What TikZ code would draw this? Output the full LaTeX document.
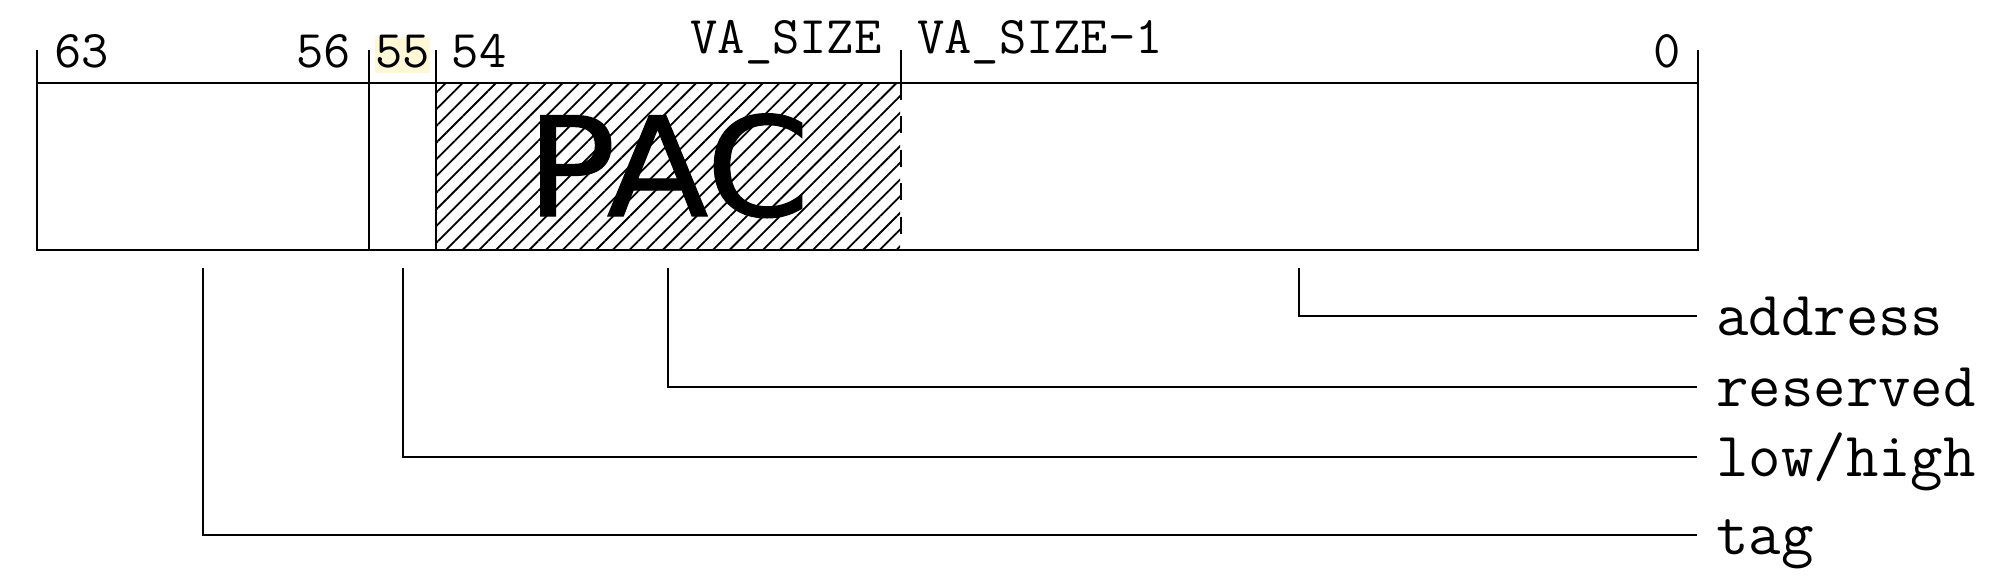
\documentclass[tikz,border=0pt]{standalone}
\usepackage{fontspec}
\usetikzlibrary{patterns.meta}
\newfontfamily\pacf[FakeStretch=1.08,FakeBold=0.8]{DejaVu Sans}
\definecolor{hilite}{HTML}{FFF8D6}
\tikzset{
  frame/.style={line width=2pt, black},
  hatchfill/.style={pattern={Lines[angle=45,distance=11.8pt,line width=1.8pt]}},
  bitlbl/.style={font=\ttfamily\fontsize{53}{56}\selectfont, inner sep=0pt, anchor=base},
  fieldlbl/.style={font=\ttfamily\fontsize{63}{66}\selectfont, inner sep=0pt, anchor=base west},
  leader/.style={line width=2pt, black},
}
\begin{document}
\begin{tikzpicture}[x=1pt,y=-1pt]
\useasboundingbox (0,0) rectangle (1991,579);
% hatched PAC area
\fill[hatchfill] (436,83) rectangle (900,250);
% highlight behind 55
\fill[hilite] (375,37) rectangle (430,73);
% frame
\draw[frame] (37,50) -- (37,250) -- (1698,250) -- (1698,50);
\draw[frame] (37,82.5) -- (1698,82.5);
\draw[frame] (369,50) -- (369,250);
\draw[frame] (436,50) -- (436,250);
\draw[frame] (900.5,50) -- (900.5,82.5);
\draw[frame, dash pattern=on 17pt off 16.5pt] (900.5,82.5) -- (900.5,240);
% bit labels
\node[bitlbl] (b63) at (81.5,67) {63};
\node[bitlbl] (b56) at (323.5,67) {56};
\node[bitlbl] (b55) at (402.5,67) {55};
\node[bitlbl] (b54) at (479,67) {54};
\node[bitlbl] (bva) at (786,53) {VA\_SIZE};
\node[bitlbl] (bva1) at (1040,53) {VA\_SIZE-1};
\node[bitlbl] (b0) at (1667.5,67) {0};
% PAC
\node[font=\pacf\fontsize{138}{142}\selectfont, inner sep=0pt, anchor=base] (pac) at (668,216) {PAC};
% field labels
\node[fieldlbl] (laddr) at (1716,335) {address};
\node[fieldlbl] (lres) at (1716,406) {reserved};
\node[fieldlbl] (llh) at (1716,476) {low/high};
\node[fieldlbl] (ltag) at (1716,554) {tag};
% leader start/end points
\coordinate (saddr) at (1299,268);
\coordinate (sres) at (668,268);
\coordinate (slh) at (402.5,268);
\coordinate (stag) at (203,268);
\coordinate (eaddr) at (1697,316);
\coordinate (eres) at (1697,387);
\coordinate (elh) at (1697,457);
\coordinate (etag) at (1697,535);
\draw[leader] (saddr) |- (eaddr);
\draw[leader] (sres) |- (eres);
\draw[leader] (slh) |- (elh);
\draw[leader] (stag) |- (etag);
\end{tikzpicture}
\end{document}
